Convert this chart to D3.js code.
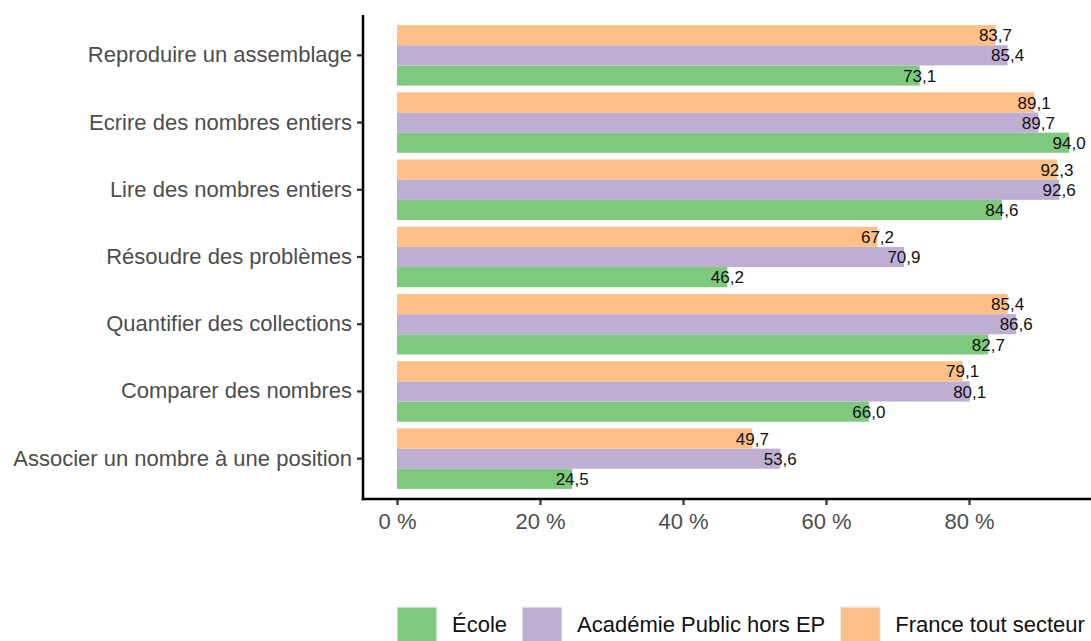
<!DOCTYPE html>
<html><head><meta charset="utf-8">
<script src="https://cdn.jsdelivr.net/npm/d3@7"></script>
<style>html,body{margin:0;padding:0;background:#fff;overflow:hidden}</style>
</head><body>
<svg id="c" width="1091" height="641"></svg>
<script>
const categories = ["Reproduire un assemblage","Ecrire des nombres entiers","Lire des nombres entiers","Résoudre des problèmes","Quantifier des collections","Comparer des nombres","Associer un nombre à une position"];
const seriesNames = ["École","Académie Public hors EP","France tout secteur"];
const ecole = [73.1, 94.0, 84.6, 46.2, 82.7, 66.0, 24.5];
const academie = [85.4, 89.7, 92.6, 70.9, 86.6, 80.1, 53.6];
const france = [83.7, 89.1, 92.3, 67.2, 85.4, 79.1, 49.7];
const xTicks = [0, 20, 40, 60, 80];
const colors = ["#7fc97f", "#beaed4", "#fdc086"];

const svg = d3.select("#c");
const font = "'Liberation Sans', Arial, sans-serif";
const plotTop = 15, plotBottom = 499, axisX = 363, plotRight = 1091;

const x = d3.scaleLinear().domain([0, 100]).range([397, 1112]);
const y = d3.scaleBand().domain(categories).range([plotTop, plotBottom]).paddingInner(0.1).paddingOuter(0.15);
// top to bottom within group: France, Académie, École
const sub = d3.scaleBand().domain([2, 1, 0]).range([0, y.bandwidth()]);

const values = [ecole, academie, france];
const data = [];
categories.forEach((c, i) => {
  values.forEach((arr, s) => data.push({cat: c, s, v: arr[i]}));
});

const g = svg.append("g");
g.selectAll("rect.bar").data(data).join("rect")
  .attr("class", "bar")
  .attr("x", x(0))
  .attr("y", d => y(d.cat) + sub(d.s))
  .attr("width", d => x(d.v) - x(0))
  .attr("height", sub.bandwidth())
  .attr("fill", d => colors[d.s]);

const fmt = d3.format(".1f");
g.selectAll("text.lab").data(data).join("text")
  .attr("class", "lab")
  .attr("x", d => x(d.v))
  .attr("y", d => y(d.cat) + sub(d.s) + sub.bandwidth() / 2)
  .attr("dy", "0.36em")
  .attr("text-anchor", "middle")
  .attr("font-family", font)
  .attr("font-size", 17)
  .attr("fill", "#111")
  .text(d => fmt(d.v).replace(".", ","));

// Y axis
const yAxis = d3.axisLeft(y).tickSize(6).tickPadding(5);
const ya = svg.append("g").attr("transform", `translate(${axisX},0)`).call(yAxis);
ya.select(".domain").remove();
ya.selectAll(".tick line").attr("stroke", "#333").attr("stroke-width", 2.2);
ya.selectAll(".tick text").attr("font-family", font).attr("font-size", 22).attr("fill", "#4d4d4d");

// X axis
const xAxis = d3.axisBottom(x).tickValues(xTicks).tickSize(6).tickPadding(8).tickFormat(d => d + " %");
const xa = svg.append("g").attr("transform", `translate(0,${plotBottom})`).call(xAxis);
xa.select(".domain").remove();
xa.selectAll(".tick line").attr("stroke", "#333").attr("stroke-width", 2.2);
xa.selectAll(".tick text").attr("font-family", font).attr("font-size", 22).attr("fill", "#4d4d4d");

// axis lines
svg.append("line").attr("x1", axisX).attr("x2", axisX).attr("y1", plotTop).attr("y2", plotBottom + 1.2)
  .attr("stroke", "#000").attr("stroke-width", 2.5);
svg.append("line").attr("x1", axisX - 1.2).attr("x2", plotRight).attr("y1", plotBottom).attr("y2", plotBottom)
  .attr("stroke", "#000").attr("stroke-width", 2.5);

// Legend
const leg = svg.append("g");
let lx = 397;
seriesNames.forEach((n, i) => {
  leg.append("rect").attr("x", lx).attr("y", 607).attr("width", 40).attr("height", 40)
    .attr("fill", colors[i]).attr("stroke", "#f2f2f2").attr("stroke-width", 1.2);
  const t = leg.append("text").attr("x", lx + 55).attr("y", 632)
    .attr("font-family", font).attr("font-size", 22).attr("fill", "#111").text(n);
  lx = lx + 55 + t.node().getComputedTextLength() + 15;
});
</script>
</body></html>
